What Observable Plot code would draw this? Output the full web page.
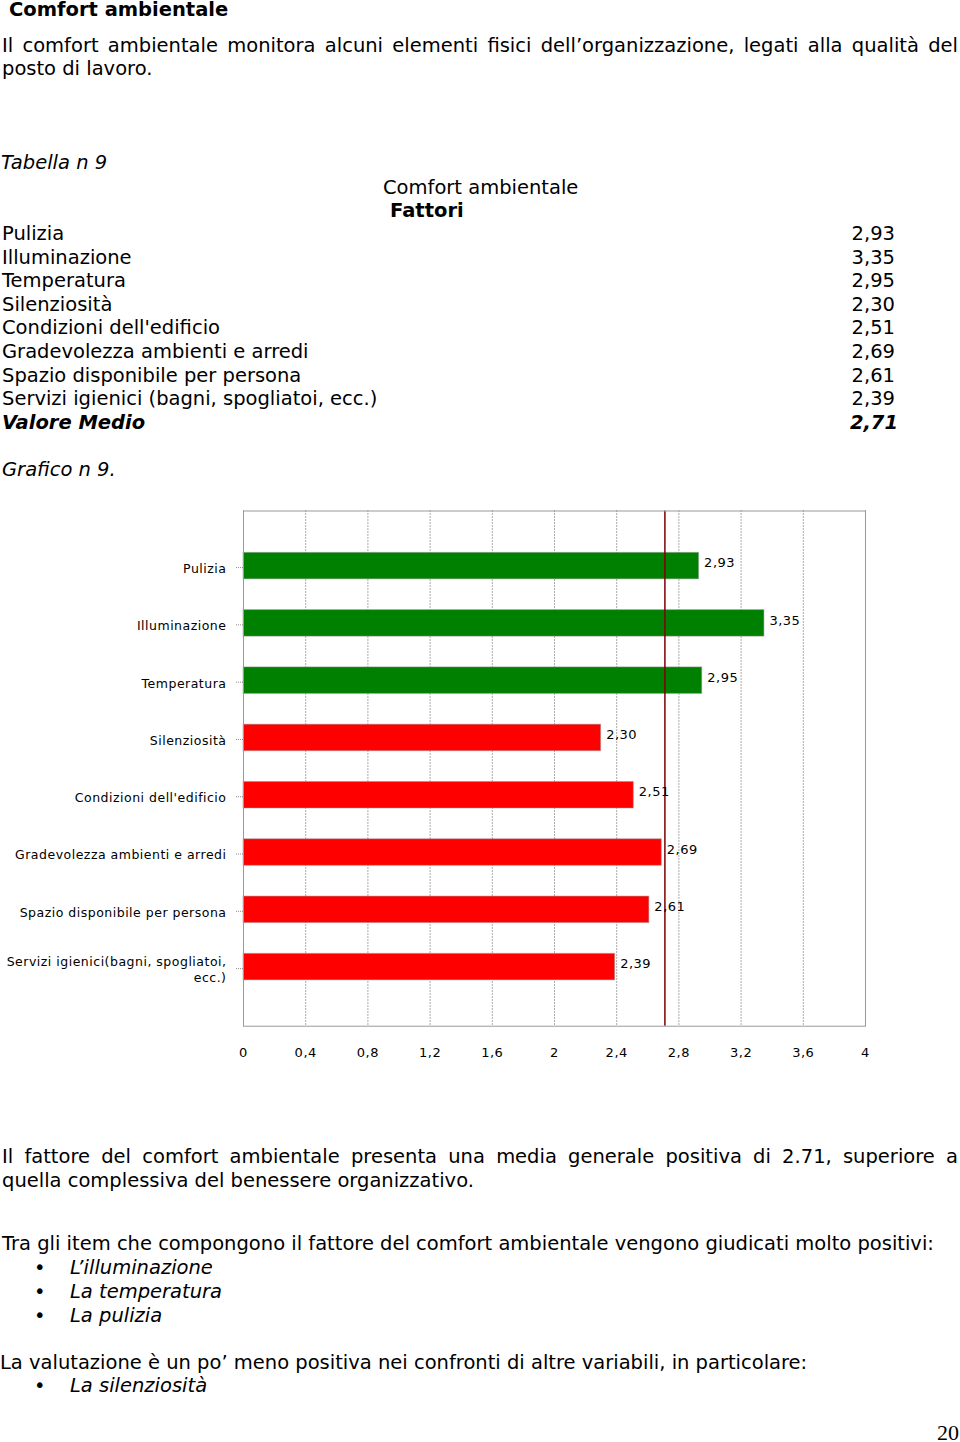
<!DOCTYPE html>
<html>
<head>
<meta charset="utf-8">
<script src="https://cdn.jsdelivr.net/npm/d3@7"></script>
<script src="https://cdn.jsdelivr.net/npm/@observablehq/plot@0.6"></script>
<style>
  html, body { margin: 0; padding: 0; background: #fff; }
  body { width: 960px; height: 1442px; position: relative; overflow: hidden;
         font-family: "DejaVu Sans", Verdana, sans-serif; font-size: 19.5px; line-height: 24px; color: #000; }
  .ln { position: absolute; white-space: nowrap; }
  .just { position: absolute; left: 2px; width: 956px; text-align: justify; text-align-last: justify; }
  .b { font-weight: bold; }
  .i { font-style: italic; }
  #chart { position: absolute; left: 0; top: 490px; }
</style>
</head>
<body>
<script>
// ---- data ----
const tableLabels = [
  "Pulizia", "Illuminazione", "Temperatura", "Silenziosità",
  "Condizioni dell'edificio", "Gradevolezza ambienti e arredi",
  "Spazio disponibile per persona", "Servizi igienici (bagni, spogliatoi, ecc.)"
];
const chartLabels = [
  "Pulizia", "Illuminazione", "Temperatura", "Silenziosità",
  "Condizioni dell'edificio", "Gradevolezza ambienti e arredi",
  "Spazio disponibile per persona", "Servizi igienici(bagni, spogliatoi,\necc.)"
];
const values = [2.93, 3.35, 2.95, 2.30, 2.51, 2.69, 2.61, 2.39];
const meanValue = 2.71;
const xTicks = [0, 0.4, 0.8, 1.2, 1.6, 2, 2.4, 2.8, 3.2, 3.6, 4];

const fmt2 = v => d3.format(".2f")(v).replace(".", ",");
const fmtTick = v => String(v).replace(".", ",");

function line(html, top, left, cls) {
  const d = document.createElement("div");
  d.className = "ln " + (cls || "");
  d.style.top = top + "px";
  d.style.left = left + "px";
  d.innerHTML = html;
  document.body.appendChild(d);
  return d;
}
function just(html, top) {
  const d = document.createElement("div");
  d.className = "just";
  d.style.top = top + "px";
  d.innerHTML = html;
  document.body.appendChild(d);
}
function right(html, top, r, cls) {
  const d = document.createElement("div");
  d.className = "ln " + (cls || "");
  d.style.top = top + "px";
  d.style.right = r + "px";
  d.innerHTML = html;
  document.body.appendChild(d);
}

// ---- header text ----
line("Comfort ambientale", -2, 9, "b");
just("Il comfort ambientale monitora alcuni elementi fisici dell’organizzazione, legati alla qualità del", 33.5);
line("posto di lavoro.", 57, 2);

// ---- table ----
line("Tabella n 9", 150.5, 1, "i");
line("Comfort ambientale", 175.8, 383);
line("Fattori", 198.5, 390, "b");
tableLabels.forEach((lab, i) => {
  const top = 222 + i * 23.6;
  line(lab, top, 2);
  right(fmt2(values[i]), top, 65);
});
line("Valore Medio", 222 + 8 * 23.6, 2, "b i");
right(fmt2(meanValue), 222 + 8 * 23.6, 62, "b i");
line("Grafico n 9.", 458, 2, "i");

// ---- chart ----
const data = chartLabels.map((label, i) => ({label, value: values[i]}));
const chart = Plot.plot({
  width: 960,
  height: 590,
  marginLeft: 243,
  marginRight: 95,
  marginTop: 20.5,
  marginBottom: 54.3,
  style: {fontFamily: "'DejaVu Sans', Verdana, sans-serif", letterSpacing: "0.5px", background: "transparent", color: "#000"},
  x: {domain: [0, 4], ticks: xTicks},
  y: {domain: chartLabels, paddingInner: 0.537, paddingOuter: 0.73, insetBottom: 4, round: false},
  marks: [
    Plot.gridX(xTicks, {stroke: "#555", strokeOpacity: 1, strokeDasharray: "1,2"}),
    Plot.barX(data, {
      x: "value", y: "label",
      fill: d => d.value > meanValue ? "#008000" : "#ff0000",
      stroke: "#999", strokeOpacity: 0.5, strokeWidth: 1
    }),
    Plot.ruleX([meanValue], {stroke: "#7a0000", strokeWidth: 1.5}),
    Plot.text(data, {
      x: "value", y: "label", text: d => fmt2(d.value),
      textAnchor: "start", dx: 5, dy: -3, fontSize: 13, fill: "#000"
    }),
    Plot.frame({stroke: "#999"}),
    Plot.axisX({ticks: xTicks, tickSize: 0, tickPadding: 21.5, tickFormat: fmtTick, fontSize: 13, label: null}),
    Plot.axisY({tickSize: 7, tickPadding: 10, stroke: "#888", strokeDasharray: "1,1", fontSize: 12.5, lineHeight: 1.35, dy: 1.5, label: null})
  ]
});
chart.id = "chart";
document.body.appendChild(chart);

// ---- bottom text ----
just("Il fattore del comfort ambientale presenta una media generale positiva di 2.71, superiore a", 1145);
line("quella complessiva del benessere organizzativo.", 1168.5, 2);
line("Tra gli item che compongono il fattore del comfort ambientale vengono giudicati molto positivi:", 1231.5, 2);
const positives = ["L’illuminazione", "La temperatura", "La pulizia"];
positives.forEach((t, i) => {
  const top = 1256 + i * 23.8;
  line("•", top, 34);
  line(t, top, 70, "i");
});
line("La valutazione è un po’ meno positiva nei confronti di altre variabili, in particolare:", 1351, 0);
line("•", 1374, 34);
line("La silenziosità", 1374, 70, "i");
const pg = document.createElement("div");
pg.className = "ln";
pg.style.cssText = "top:1420.6px;right:1px;font-family:'Liberation Serif','Times New Roman',serif;font-size:22px;";
pg.textContent = "20";
document.body.appendChild(pg);
</script>
</body>
</html>
